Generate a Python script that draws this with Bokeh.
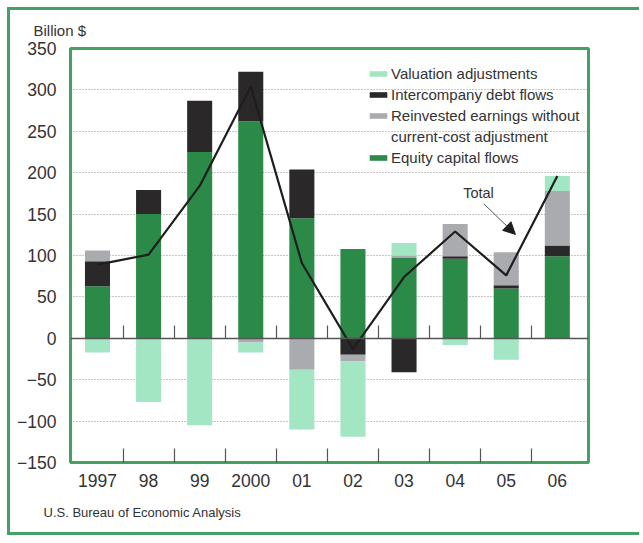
import numpy as np
from bokeh.plotting import figure
from bokeh.models import (FixedTicker, LinearAxis, Legend, LegendItem, Label,
                          Arrow, NormalHead, Range1d, Title)
from bokeh.embed import file_html
from bokeh.resources import INLINE

# ---------------- data (billion $) ----------------
years = ["1997", "98", "99", "2000", "01", "02", "03", "04", "05", "06"]
equity = [63, 150, 225, 262, 145, 108, 97, 96, 60, 99]
debt = [30, 29, 62, 60, 59, -20, -41, 3, 4, 13]
reinvested = [13, 0, 0, -5, -38, -8, 3, 39, 40, 66]
valuation = [-17, -77, -105, -12, -72, -91, 15, -8, -26, 18]
total = [89, 101, 184, 304, 91, -13, 74, 129, 76, 196]
y_ticks = [-150, -100, -50, 0, 50, 100, 150, 200, 250, 300, 350]
y_tick_labels = ["\u2212150", "\u2212100", "\u221250", "0", "50", "100",
                 "150", "200", "250", "300", "350"]

series_names = ["Equity capital flows", "Intercompany debt flows",
                "Reinvested earnings without", "Valuation adjustments"]
colors = ["#2b8a48", "#2a2828", "#a9abae", "#a3e6c3"]

FONT = "Liberation Sans"
GREEN = "#43a163"
TXT = "#333333"

xs = np.arange(len(years))

p = figure(width=632, height=528, output_backend="svg", toolbar_location=None,
           x_range=Range1d(-0.528, 9.61), y_range=Range1d(-150, 350),
           min_border_left=60, min_border_right=54, min_border_top=38,
           min_border_bottom=76,
           background_fill_color="white", border_fill_color="white")
p.styles = {"margin-left": "7px", "margin-top": "7px",
            "border-left": "3px solid " + GREEN, "border-top": "3px solid " + GREEN,
            "border-bottom": "3px solid " + GREEN}

p.outline_line_color = GREEN
p.outline_line_width = 3

# grid
p.xgrid.visible = False
p.ygrid.ticker = FixedTicker(ticks=y_ticks)
p.ygrid.grid_line_color = "#8a8a8a"
p.ygrid.grid_line_dash = "1 2"
p.ygrid.grid_line_width = 1

# stacked bars (positive and negative stacks separately)
pos_base = np.zeros(len(years))
neg_base = np.zeros(len(years))
renderers = {}
for name, comp, col in zip(series_names, [equity, debt, reinvested, valuation], colors):
    v = np.array(comp, dtype=float)
    bottom = np.where(v >= 0, pos_base, neg_base)
    top = bottom + v
    pos_base = np.where(v >= 0, top, pos_base)
    neg_base = np.where(v < 0, top, neg_base)
    r = p.vbar(x=xs, bottom=bottom, top=top, width=0.49,
               fill_color=col, line_color=None)
    renderers[name] = r

# total line
p.line(xs, total, line_color="#1e1e1e", line_width=2.2)

# dummy renderer for the second legend line
dummy = p.vbar(x=[], top=[], width=0.5, fill_alpha=0, line_alpha=0)

legend = Legend(items=[
    LegendItem(label="Valuation adjustments", renderers=[renderers["Valuation adjustments"]]),
    LegendItem(label="Intercompany debt flows", renderers=[renderers["Intercompany debt flows"]]),
    LegendItem(label="Reinvested earnings without", renderers=[renderers["Reinvested earnings without"]]),
    LegendItem(label="current-cost adjustment", renderers=[dummy]),
    LegendItem(label="Equity capital flows", renderers=[renderers["Equity capital flows"]]),
], location=(297, 296))
legend.background_fill_alpha = 0
legend.border_line_alpha = 0
legend.padding = 0
legend.margin = 0
legend.glyph_width = 22
legend.glyph_height = 7
legend.label_standoff = 2
legend.label_height = 17
legend.spacing = 4
legend.label_text_font = FONT
legend.label_text_font_size = "15px"
legend.label_text_color = TXT
p.add_layout(legend)

# x axis (category labels at centres, ticks at boundaries)
boundaries = [i + 0.5 for i in range(len(years) - 1)]
xa = p.xaxis[0]
xa.ticker = FixedTicker(ticks=list(xs), minor_ticks=boundaries)
xa.major_label_overrides = {int(i): years[i] for i in xs}
xa.axis_line_color = None
xa.major_tick_line_color = None
xa.minor_tick_in = 14
xa.minor_tick_out = 0
xa.minor_tick_line_color = "#555555"
xa.minor_tick_line_width = 1.2
xa.major_label_text_font = FONT
xa.major_label_text_font_size = "17.5px"
xa.major_label_text_color = TXT
xa.major_label_standoff = 5

# zero line with ticks
za = LinearAxis(fixed_location=0, ticker=FixedTicker(ticks=[], minor_ticks=boundaries))
za.axis_line_color = "#555555"
za.axis_line_width = 1.3
za.minor_tick_in = 13
za.minor_tick_out = 0
za.minor_tick_line_color = "#555555"
za.minor_tick_line_width = 1.2
za.major_tick_line_color = None
za.major_label_text_font_size = "0px"
za.major_label_standoff = 0
p.add_layout(za, "below")

# y axis
ya = p.yaxis[0]
ya.ticker = FixedTicker(ticks=y_ticks)
ya.major_label_overrides = {t: l for t, l in zip(y_ticks, y_tick_labels)}
ya.axis_line_color = None
ya.major_tick_line_color = None
ya.minor_tick_line_color = None
ya.major_label_text_font = FONT
ya.major_label_text_font_size = "17.5px"
ya.major_label_text_color = TXT
ya.major_label_standoff = 8

# texts outside the frame
p.add_layout(Title(text="Billion $", align="left", offset=-37, standoff=19,
                   text_font=FONT, text_font_size="15px", text_font_style="normal",
                   text_color=TXT), "above")
# small blank spacer so the source line sits lower
p.add_layout(Title(text=" ", standoff=0, text_font=FONT, text_font_size="6px",
                   text_color="white"), "below")
p.add_layout(Title(text="U.S. Bureau of Economic Analysis", align="left", offset=-27,
                   standoff=10, text_font=FONT, text_font_size="13px",
                   text_font_style="normal", text_color=TXT), "below")

# annotation inside the frame
p.add_layout(Label(x=7.456, y=176, text="Total", text_font=FONT,
                   text_font_size="14.5px", text_color=TXT,
                   text_align="center", text_baseline="middle"))
p.add_layout(Arrow(x_start=7.56, y_start=162.5, x_end=8.18, y_end=125.5,
                   line_color="#555555", line_width=1,
                   end=NormalHead(size=12, fill_color="#1e1e1e", line_color="#1e1e1e")))

open("out.html", "w").write(file_html(p, INLINE))
